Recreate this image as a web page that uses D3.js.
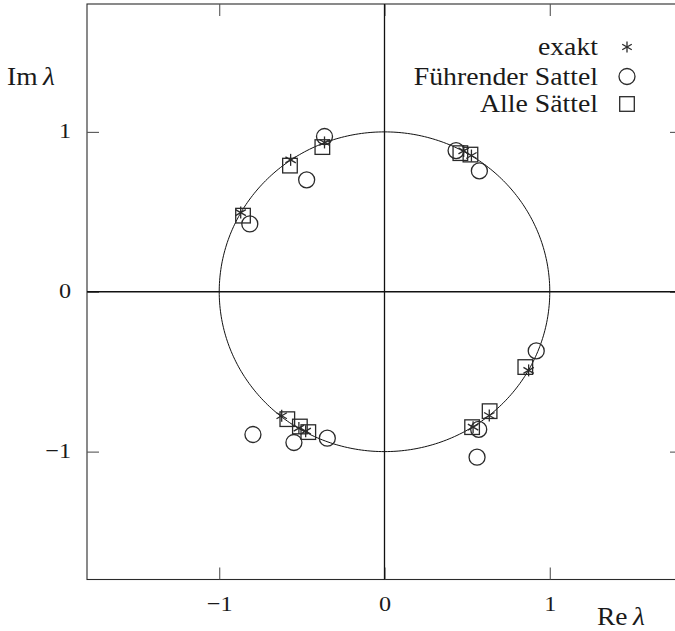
<!DOCTYPE html>
<html>
<head>
<meta charset="utf-8">
<script src="https://cdn.jsdelivr.net/npm/d3@7"></script>
<style>
  html, body { margin: 0; padding: 0; background: #fff; }
  svg { display: block; }
  text { font-family: "Liberation Serif", "DejaVu Serif", serif; fill: #1a1a1a; }
</style>
</head>
<body>
<svg id="chart" width="675" height="631"></svg>
<script>
// Eigenvalues in the complex plane: exact values vs. two saddle-point approximations
const exaktRe  = [-0.363, -0.568, -0.870, 0.479, 0.526, -0.622, -0.518, -0.477, 0.872, 0.634, 0.536];
const exaktIm  = [ 0.934,  0.825,  0.495, 0.881, 0.852, -0.776, -0.853, -0.872, -0.492, -0.774, -0.847];

const fuehrRe  = [-0.363, -0.471, -0.815, 0.433, 0.574, -0.796, -0.548, -0.346, 0.918, 0.570, 0.560];
const fuehrIm  = [ 0.971,  0.700,  0.424, 0.883, 0.756, -0.893, -0.943, -0.916, -0.370, -0.861, -1.035];

const alleRe   = [-0.376, -0.572, -0.856, 0.459, 0.520, -0.588, -0.512, -0.461, 0.852, 0.636, 0.530];
const alleIm   = [ 0.905,  0.789,  0.476, 0.867, 0.858, -0.797, -0.843, -0.878, -0.471, -0.747, -0.847];

const tickValues = [-1, 0, 1];
const tickLabels = ["−1", "0", "1"];
const legendLabels = ["exakt", "Führender Sattel", "Alle Sättel"];

const svg = d3.select("#chart");
const x = d3.scaleLinear().domain([-1.8, 1.8]).range([87, 682]);
const y = d3.scaleLinear().domain([-1.8, 1.8]).range([579.5, 4]);
const ink = "#2a2a2a";
const tickLen = 12;

// widen the serif face slightly so it sets like a book font
function widen(sel, k) {
  sel.each(function () {
    const w = this.getComputedTextLength();
    d3.select(this).attr("textLength", w * k).attr("lengthAdjust", "spacingAndGlyphs");
  });
}

// frame
svg.append("rect")
  .attr("x", x(-1.8)).attr("y", y(1.8))
  .attr("width", x(1.8) - x(-1.8)).attr("height", y(-1.8) - y(1.8))
  .attr("fill", "none").attr("stroke", ink).attr("stroke-width", 1.1);

// inward ticks on all four sides
const fmt = (d) => tickLabels[tickValues.indexOf(d)];
const axisB = svg.append("g").attr("transform", `translate(0,${y(-1.8)})`)
  .call(d3.axisBottom(x).tickValues(tickValues).tickSize(-tickLen).tickFormat(fmt));
const axisT = svg.append("g").attr("transform", `translate(0,${y(1.8)})`)
  .call(d3.axisTop(x).tickValues(tickValues).tickSize(-tickLen).tickFormat(""));
const axisL = svg.append("g").attr("transform", `translate(${x(-1.8)},0)`)
  .call(d3.axisLeft(y).tickValues(tickValues).tickSize(-tickLen).tickFormat(fmt));
const axisR = svg.append("g").attr("transform", `translate(${x(1.8)},0)`)
  .call(d3.axisRight(y).tickValues(tickValues).tickSize(-tickLen).tickFormat(""));

[axisB, axisT, axisL, axisR].forEach(g => {
  g.select(".domain").remove();
  g.selectAll(".tick line").attr("stroke", "#555").attr("stroke-width", 1.1);
});
axisB.selectAll(".tick text")
  .attr("y", 31.5).attr("dy", 0)
  .style("font-family", "Liberation Serif, serif").style("font-size", "22px").attr("fill", "#1a1a1a")
  .call(widen, 1.1);
axisL.selectAll(".tick text")
  .attr("x", -16).attr("dy", 6)
  .style("font-family", "Liberation Serif, serif").style("font-size", "22px").attr("fill", "#1a1a1a")
  .call(widen, 1.1);

// coordinate axes through the origin
svg.append("line").attr("x1", x(-1.8)).attr("x2", x(1.8)).attr("y1", y(0)).attr("y2", y(0))
  .attr("stroke", "#111").attr("stroke-width", 1.3);
svg.append("line").attr("x1", x(0)).attr("x2", x(0)).attr("y1", y(1.8)).attr("y2", y(-1.8))
  .attr("stroke", "#111").attr("stroke-width", 1.3);

// unit circle
const angles = d3.range(0, 361, 1).map(a => a * Math.PI / 180);
svg.append("path")
  .attr("d", d3.line().x(t => x(Math.cos(t))).y(t => y(Math.sin(t)))(angles))
  .attr("fill", "none").attr("stroke", "#111").attr("stroke-width", 1);

// marker shapes
function drawStar(g, cx, cy, r) {
  [90, 30, 150].forEach(a => {
    const rad = a * Math.PI / 180;
    g.append("line")
      .attr("x1", cx - r * Math.cos(rad)).attr("y1", cy - r * Math.sin(rad))
      .attr("x2", cx + r * Math.cos(rad)).attr("y2", cy + r * Math.sin(rad))
      .attr("stroke", ink).attr("stroke-width", 1.3);
  });
}
function drawCircle(g, cx, cy) {
  g.append("circle").attr("cx", cx).attr("cy", cy).attr("r", 8)
    .attr("fill", "none").attr("stroke", ink).attr("stroke-width", 1.3);
}
function drawSquare(g, cx, cy) {
  g.append("rect").attr("x", cx - 7.3).attr("y", cy - 7.3).attr("width", 14.6).attr("height", 14.6)
    .attr("fill", "none").attr("stroke", ink).attr("stroke-width", 1.3);
}

const marks = svg.append("g");
fuehrRe.forEach((re, i) => drawCircle(marks, x(re), y(fuehrIm[i])));
alleRe.forEach((re, i) => drawSquare(marks, x(re), y(alleIm[i])));
exaktRe.forEach((re, i) => drawStar(marks, x(re), y(exaktIm[i]), 6));

// legend
const legend = svg.append("g");
const rowY = [47, 76.5, 104];
legendLabels.forEach((lab, i) => {
  legend.append("text")
    .attr("x", 598).attr("y", rowY[i] + 8)
    .attr("text-anchor", "end")
    .style("font-size", "25px")
    .text(lab)
    .call(widen, 1.11);
});
drawStar(legend, 627, rowY[0], 5.5);
drawCircle(legend, 627, rowY[1]);
drawSquare(legend, 627, rowY[2]);

// axis titles
const ylab = svg.append("text").attr("x", 7).attr("y", 85).style("font-size", "25px");
ylab.append("tspan").text("Im\u2009");
ylab.append("tspan").style("font-style", "italic").text("λ");
ylab.call(widen, 1.1);

const xlab = svg.append("text").attr("x", 597).attr("y", 625).style("font-size", "25px");
xlab.append("tspan").text("Re\u2009");
xlab.append("tspan").style("font-style", "italic").text("λ");
xlab.call(widen, 1.1);
</script>
</body>
</html>
